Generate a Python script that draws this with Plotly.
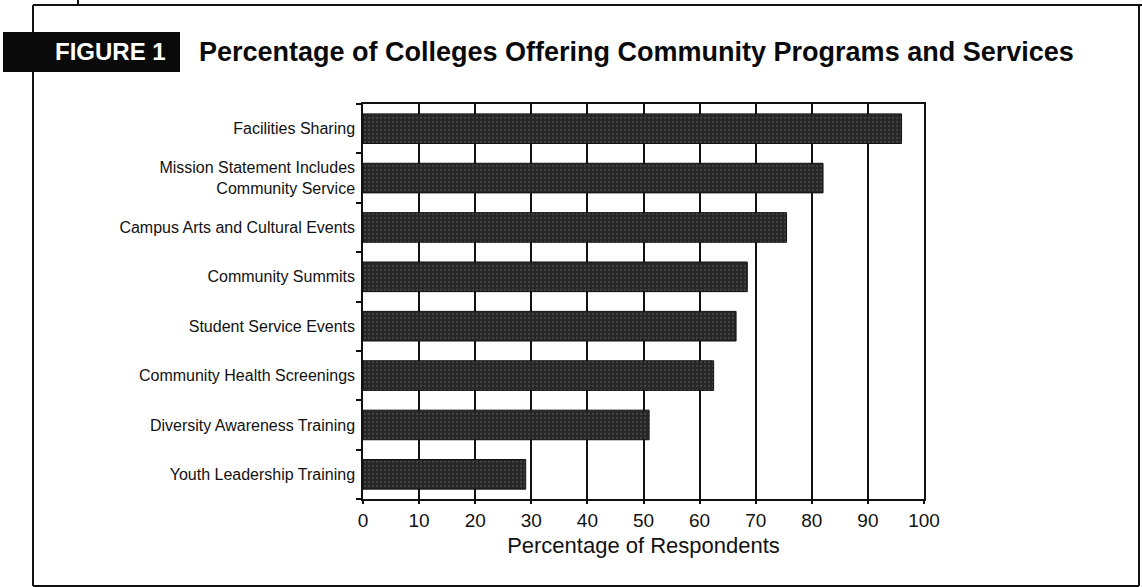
import plotly.graph_objects as go

# Survey results: share of colleges offering each program/service
programs = [
    "Facilities Sharing",
    "Mission Statement Includes<br>Community Service",
    "Campus Arts and Cultural Events",
    "Community Summits",
    "Student Service Events",
    "Community Health Screenings",
    "Diversity Awareness Training",
    "Youth Leadership Training",
]
percent = [96, 82, 75.5, 68.5, 66.5, 62.5, 51, 29]
x_ticks = [0, 10, 20, 30, 40, 50, 60, 70, 80, 90, 100]

W, H = 1142, 587
PL, PR, PT, PB = 363, 924, 104, 499  # plot-area box in pixels


def px(x):
    return (x - PL) / (PR - PL)


def py(y):
    return (PB - y) / (PB - PT)


fig = go.Figure(
    go.Bar(
        x=percent,
        y=programs,
        orientation="h",
        marker=dict(
            color="#2a2a2a",
            line=dict(color="#111111", width=1),
            pattern=dict(shape=".", fgcolor="#5e5e5e", bgcolor="#262626",
                         size=4, solidity=0.25),
        ),
        hoverinfo="x+y",
    )
)

fig.update_layout(
    width=W,
    height=H,
    margin=dict(l=PL, r=W - PR, t=PT, b=H - PB, pad=0),
    paper_bgcolor="white",
    plot_bgcolor="white",
    showlegend=False,
    bargap=0.4,
    font=dict(family="Liberation Sans, Arial, sans-serif", color="#111111"),
)

fig.update_xaxes(
    range=[0, 100],
    tickvals=x_ticks,
    ticktext=[str(v) for v in x_ticks],
    tickfont=dict(size=19, color="#111111"),
    ticks="outside",
    ticklen=3,
    tickwidth=1.5,
    tickcolor="#111111",
    showgrid=True,
    gridcolor="#111111",
    gridwidth=1.5,
    zeroline=False,
    showline=True,
    linecolor="#111111",
    linewidth=1.5,
    mirror=True,
    title=dict(text="Percentage of Respondents", font=dict(size=22, color="#111111"),
               standoff=8),
    fixedrange=True,
)

fig.update_yaxes(
    categoryorder="array",
    categoryarray=programs[::-1],
    tickfont=dict(size=16, color="#111111"),
    ticks="outside",
    tickson="boundaries",
    ticklen=5,
    tickwidth=1.5,
    tickcolor="#111111",
    ticklabelstandoff=3,
    showgrid=False,
    showline=True,
    linecolor="#111111",
    linewidth=1.5,
    mirror=True,
    fixedrange=True,
)

# Outer frame around the figure
frame = dict(type="line", xref="paper", yref="paper",
             line=dict(color="#111111", width=2), layer="above")
fig.add_shape(**frame, x0=px(33), x1=px(1142), y0=py(5), y1=py(5))
fig.add_shape(**frame, x0=px(33), x1=px(33), y0=py(5), y1=py(586))
fig.add_shape(**frame, x0=px(33), x1=px(1139), y0=py(586), y1=py(586))
fig.add_shape(**frame, x0=px(1139), x1=px(1139), y0=py(5), y1=py(586))
fig.add_shape(**frame, x0=px(78), x1=px(78), y0=py(0), y1=py(5))

# "FIGURE 1" tag
fig.add_shape(type="rect", xref="paper", yref="paper",
              x0=px(3), x1=px(180), y0=py(32), y1=py(72),
              fillcolor="#0a0a0a", line=dict(width=0), layer="above")
fig.add_annotation(xref="paper", yref="paper", x=px(168), y=py(52),
                   xanchor="right", yanchor="middle", showarrow=False,
                   text="<b>FIGURE 1</b>",
                   font=dict(size=24, color="white",
                             family="Liberation Sans, Arial, sans-serif"))

# Chart title
fig.add_annotation(xref="paper", yref="paper", x=px(197), y=py(52),
                   xanchor="left", yanchor="middle", showarrow=False,
                   text="<b>Percentage of Colleges Offering Community Programs and Services</b>",
                   font=dict(size=27, color="#0a0a0a",
                             family="Liberation Sans, Arial, sans-serif"))

fig.write_html("out.html", include_plotlyjs=True, config={"displayModeBar": False})
